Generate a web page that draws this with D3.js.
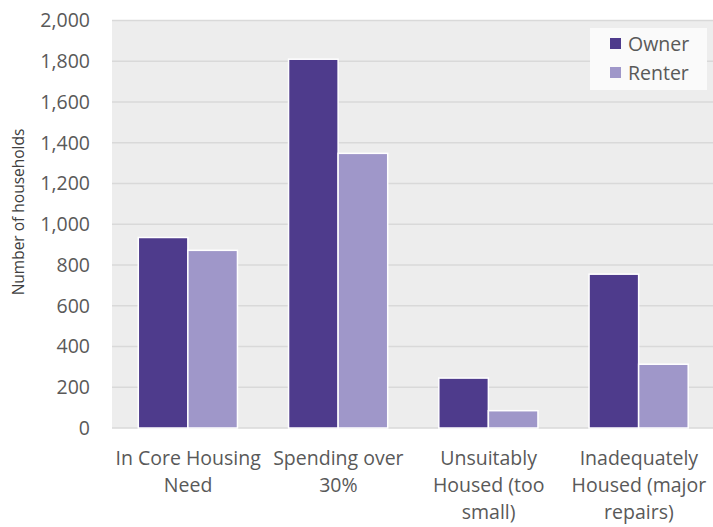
<!DOCTYPE html>
<html>
<head>
<meta charset="utf-8">
<script src="https://cdn.jsdelivr.net/npm/d3@7"></script>
<style>
  html, body { margin: 0; padding: 0; background: #fff; }
  svg { display: block; font-family: "Open Sans", sans-serif; }
</style>
</head>
<body>
<svg id="chart" width="713" height="527"></svg>
<script>
// Households in housing need, by tenure
const categories = [
  ["In Core Housing", "Need"],
  ["Spending over", "30%"],
  ["Unsuitably", "Housed (too", "small)"],
  ["Inadequately", "Housed (major", "repairs)"]
];
const seriesNames = ["Owner", "Renter"];
const ownerValues = [935, 1810, 245, 755];
const renterValues = [872, 1348, 85, 313];
const yTicks = [0, 200, 400, 600, 800, 1000, 1200, 1400, 1600, 1800, 2000];
const colors = ["#4e3b8c", "#9f97c9"];

const svg = d3.select("#chart");
const margin = { top: 20.5, right: 0, bottom: 99, left: 112 };
const W = 713, H = 527;
const innerW = W - margin.left - margin.right;
const innerH = H - margin.top - margin.bottom;

const g = svg.append("g").attr("transform", `translate(${margin.left},${margin.top})`);

const y = d3.scaleLinear().domain([0, 2000]).range([innerH, 0]);
const x0 = d3.scaleBand().domain(d3.range(categories.length)).range([0, innerW]).paddingInner(0).paddingOuter(0);
const x1 = d3.scaleBand().domain(seriesNames).range([x0.bandwidth() * 0.175, x0.bandwidth() * 0.835]).padding(0);

// plot background
g.append("rect").attr("x", 0).attr("y", 0).attr("width", innerW).attr("height", innerH).attr("fill", "#ededed");

// gridlines
g.append("g").selectAll("line").data(yTicks).join("line")
  .attr("x1", 0).attr("x2", innerW)
  .attr("y1", d => y(d)).attr("y2", d => y(d))
  .attr("stroke", "#d9d9d9").attr("stroke-width", 1.5);

// y axis labels
const yAxis = d3.axisLeft(y).tickValues(yTicks).tickFormat(d3.format(",")).tickSize(0).tickPadding(22);
const ya = g.append("g").call(yAxis);
ya.select(".domain").remove();
ya.selectAll("text").attr("font-size", 19.5).attr("fill", "#595959").attr("font-family", "'Open Sans', sans-serif");

// bars
const rows = categories.map((c, i) => ({ i, vals: [ownerValues[i], renterValues[i]] }));
const groups = g.append("g").selectAll("g").data(rows).join("g")
  .attr("transform", d => `translate(${x0(d.i)},0)`);
groups.selectAll("rect").data(d => d.vals.map((v, k) => ({ v, k }))).join("rect")
  .attr("x", d => x1(seriesNames[d.k]))
  .attr("width", x1.bandwidth())
  .attr("y", d => y(d.v))
  .attr("height", d => innerH - y(d.v))
  .attr("fill", d => colors[d.k])
  .attr("stroke", "#ffffff").attr("stroke-width", 1.5);

// category labels
const xl = g.append("g").selectAll("text").data(categories).join("text")
  .attr("x", (d, i) => x0(i) + x0.bandwidth() * 0.5 + 1)
  .attr("y", innerH + 37)
  .attr("text-anchor", "middle")
  .attr("font-size", 19.5)
  .attr("fill", "#595959");
xl.selectAll("tspan").data(d => d).join("tspan")
  .attr("x", function () { return d3.select(this.parentNode).attr("x"); })
  .attr("dy", (d, i) => i === 0 ? 0 : 27)
  .text(d => d);

// y axis title
svg.append("text")
  .attr("transform", "translate(24,212) rotate(-90)")
  .attr("text-anchor", "middle")
  .attr("font-size", 15.5)
  .attr("fill", "#404040")
  .text("Number of households");

// legend
const lg = svg.append("g").attr("transform", "translate(590,28)");
lg.append("rect").attr("width", 117).attr("height", 62).attr("fill", "#fafafa");
const items = lg.selectAll("g.item").data(seriesNames).join("g").attr("class", "item")
  .attr("transform", (d, i) => `translate(20,${16 + i * 29})`);
items.append("rect").attr("x", 0).attr("y", -6).attr("width", 11).attr("height", 11)
  .attr("fill", (d, i) => colors[i]);
items.append("text").attr("x", 18).attr("y", 0).attr("dy", "0.35em")
  .attr("font-size", 19.5).attr("fill", "#595959").text(d => d);
</script>
</body>
</html>
